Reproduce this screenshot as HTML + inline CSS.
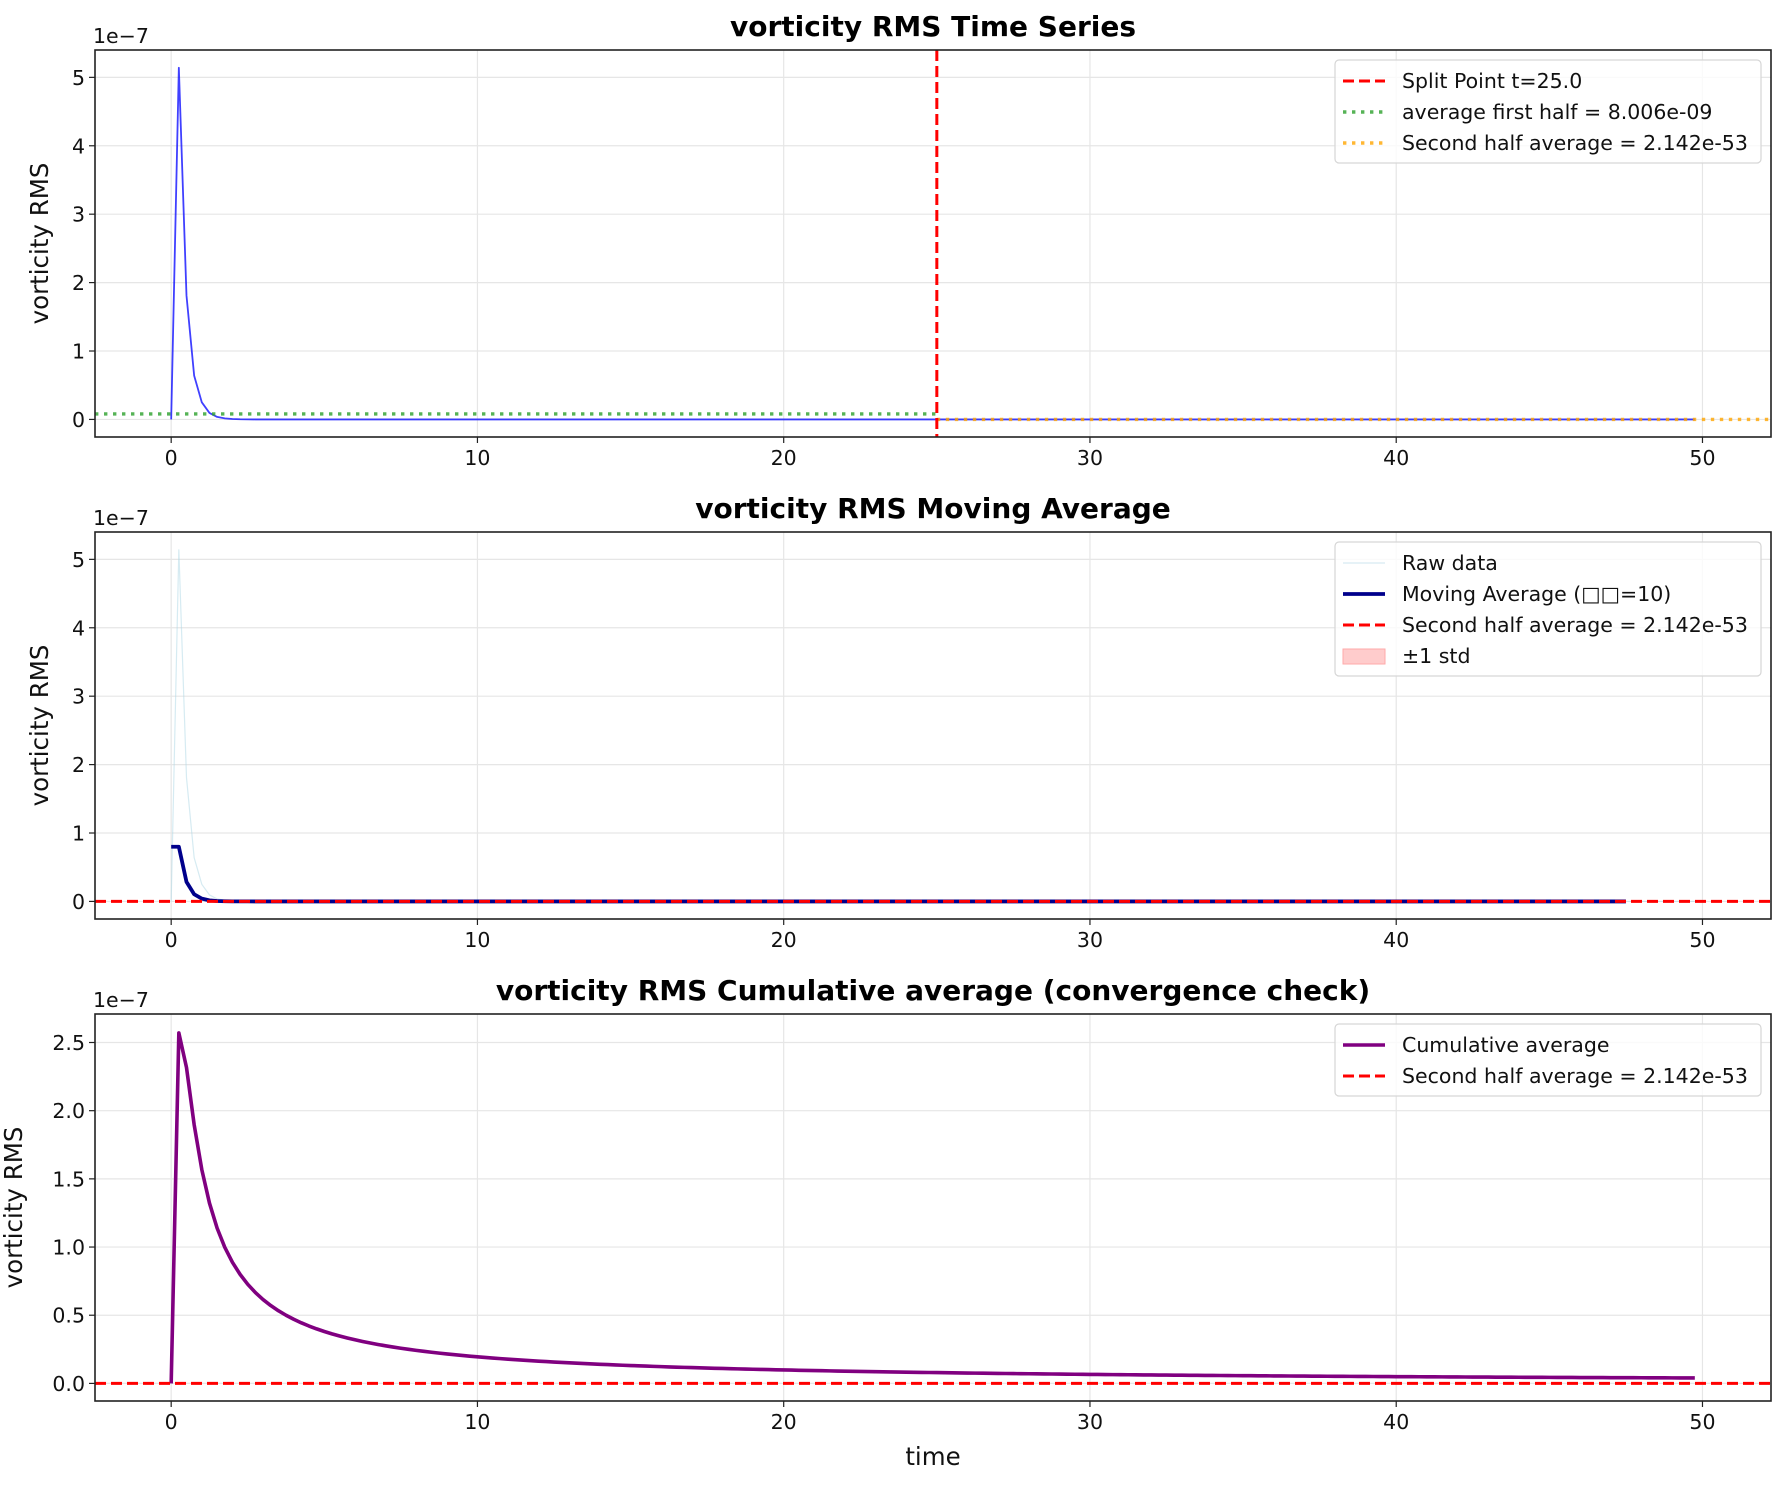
<!DOCTYPE html>
<html><head><meta charset="utf-8">
<style>
body{margin:0;background:#fff;}
svg{display:block;font-family:"DejaVu Sans","Liberation Sans","Noto Sans CJK SC",sans-serif;}
</style></head>
<body>
<svg id="fig" width="1786" height="1485" xmlns="http://www.w3.org/2000/svg"></svg>
<script>
// ---- data (units of 1e-7) ----
const dt = 0.25;
const rawHead = [0, 5.14, 1.81, 0.64, 0.25, 0.095, 0.037, 0.015, 0.006, 0.002, 0.001];
const rawTailZeros = 189;
const raw = rawHead.concat(Array(rawTailZeros).fill(0));
const times = raw.map((v,i)=>i*dt);
const splitT = 25.0;
const firstHalfAvg = 0.08006;
const secondHalfAvg = 0;
const maWindow = 10;
const xTicks = [0,10,20,30,40,50];
const yTicksTop = [0,1,2,3,4,5];
const yTicksBottom = [0,0.5,1.0,1.5,2.0,2.5];
const yTicksBottomLabels = ["0.0","0.5","1.0","1.5","2.0","2.5"];

const ma = [];
for(let i=0;i+maWindow<=raw.length;i++){let s=0;for(let j=i;j<i+maWindow;j++)s+=raw[j];ma.push(s/maWindow);}
const cum = []; {let s=0; raw.forEach((v,i)=>{s+=v;cum.push(s/(i+1));});}

const NS="http://www.w3.org/2000/svg";
const svg=document.getElementById('fig');
function el(tag,attrs,parent,text){const e=document.createElementNS(NS,tag);for(const k in attrs)e.setAttribute(k,attrs[k]);if(text!==undefined)e.textContent=text;(parent||svg).appendChild(e);return e;}

const L=95,R=1771,H=387;
const xmin=-2.4875,xmax=52.2375;
const xs=t=>L+(t-xmin)/(xmax-xmin)*(R-L);
const TF=20.5;

function makeAxes(top,ymin,ymax,yt,ytl,title,name,ylabX){
  const g=el('g',{});
  
  
  const ys=v=>top+H-(v-ymin)/(ymax-ymin)*H;
  xTicks.forEach(t=>{const l=el('line',{x1:xs(t),x2:xs(t),y1:top,y2:top+H,stroke:'#e6e6e6','stroke-width':1.2},g);
    });
  yt.forEach(v=>{const l=el('line',{x1:L,x2:R,y1:ys(v),y2:ys(v),stroke:'#e6e6e6','stroke-width':1.2},g);
    });
  xTicks.forEach(t=>{el('line',{x1:xs(t),x2:xs(t),y1:top+H,y2:top+H+6,stroke:'#222','stroke-width':1.2},g);
    const tx=el('text',{x:xs(t),y:top+H+28,'font-size':TF,'text-anchor':'middle',fill:'#111'},g,String(t));
    });
  yt.forEach((v,i)=>{el('line',{x1:L-6,x2:L,y1:ys(v),y2:ys(v),stroke:'#222','stroke-width':1.2},g);
    const tx=el('text',{x:L-10,y:ys(v)+7.5,'font-size':TF,'text-anchor':'end',fill:'#111'},g,ytl[i]);
    });
  const off=el('text',{x:L-2,y:top-7,'font-size':TF,fill:'#111'},g,'1e\u22127');
  
  const t=el('text',{x:(L+R)/2,y:top-14,'font-size':28,'font-weight':'bold','text-anchor':'middle',fill:'#000'},g,title);
  
  const yl=el('text',{x:ylabX,y:top+H/2,'font-size':24.5,'text-anchor':'middle',fill:'#111',transform:`rotate(-90 ${ylabX} ${top+H/2})`},g,'vorticity RMS');
  
  const cp='clip'+name;
  const cl=el('clipPath',{id:cp},g);el('rect',{x:L,y:top,width:R-L,height:H},cl);
  const plot=el('g',{'clip-path':`url(#${cp})`},g);
  return {g,ys,plot,top};
}
function frame(ax){const f=el('rect',{x:L,y:ax.top,width:R-L,height:H,fill:'none',stroke:'#222','stroke-width':1.6},ax.g);
  }
function poly(ax,xv,yv,attrs,name){const pts=yv.map((v,i)=>xs(xv[i]).toFixed(2)+','+ax.ys(v).toFixed(2)).join(' ');
  const p=el('polyline',Object.assign({points:pts,fill:'none','stroke-linejoin':'round'},attrs),ax.plot);
  return p;}
function legend(ax,x,y,w,items){
  const g=el('g',{},ax.g);
  
  el('rect',{x:x,y:y,width:w,height:items.length*31+10,rx:4,fill:'#fff','fill-opacity':0.8,stroke:'#d6d6d6','stroke-width':1.2},g);
  items.forEach((it,i)=>{const cy=y+21+i*31;
    if(it.patch){el('rect',{x:x+8,y:cy-7,width:42,height:15,fill:'#ffcccc',stroke:'#ffaaaa','stroke-width':1},g);}
    else el('line',Object.assign({x1:x+8,x2:x+50,y1:cy,y2:cy},it.st),g);
    const t=el('text',{x:x+67,y:cy+7,'font-size':TF,fill:'#111'},g,it.label);
    });
}

// ---- plot 1 ----
const a1=makeAxes(50,-0.257,5.4,yTicksTop,yTicksTop.map(String),'vorticity RMS Time Series','time-series-axes',48);
poly(a1,times,raw,{stroke:'#0000ff','stroke-opacity':0.75,'stroke-width':1.8},'raw-series-line');
let l=el('line',{x1:L,x2:xs(splitT),y1:a1.ys(firstHalfAvg),y2:a1.ys(firstHalfAvg),stroke:'#2ca02c','stroke-opacity':0.8,'stroke-width':3.4,'stroke-dasharray':'3.4 5.6'},a1.plot);

l=el('line',{x1:xs(splitT),x2:R,y1:a1.ys(secondHalfAvg),y2:a1.ys(secondHalfAvg),stroke:'#ffa500','stroke-opacity':0.8,'stroke-width':3.4,'stroke-dasharray':'3.4 5.6'},a1.plot);

l=el('line',{x1:xs(splitT),x2:xs(splitT),y1:a1.top,y2:a1.top+H,stroke:'#ff0000','stroke-width':3,'stroke-dasharray':'11 5'},a1.plot);

frame(a1);
legend(a1,1335,60,426,[
 {label:'Split Point t=25.0',st:{stroke:'#ff0000','stroke-width':3,'stroke-dasharray':'11 5'}},
 {label:'average first half = 8.006e-09',st:{stroke:'#2ca02c','stroke-opacity':0.8,'stroke-width':3.4,'stroke-dasharray':'3.4 5.6'}},
 {label:'Second half average = 2.142e-53',st:{stroke:'#ffa500','stroke-opacity':0.8,'stroke-width':3.4,'stroke-dasharray':'3.4 5.6'}}]);

// ---- plot 2 ----
const a2=makeAxes(532,-0.257,5.4,yTicksTop,yTicksTop.map(String),'vorticity RMS Moving Average','moving-average-axes',48);
poly(a2,times,raw,{stroke:'#add8e6','stroke-opacity':0.5,'stroke-width':1.2},'raw-data-line');
poly(a2,times.slice(0,ma.length),ma,{stroke:'#00008b','stroke-width':3.8},'moving-average-line');
l=el('line',{x1:L,x2:R,y1:a2.ys(secondHalfAvg),y2:a2.ys(secondHalfAvg),stroke:'#ff0000','stroke-width':3,'stroke-dasharray':'11 5'},a2.plot);

frame(a2);
legend(a2,1335,542,426,[
 {label:'Raw data',st:{stroke:'#add8e6','stroke-opacity':0.5,'stroke-width':1.2}},
 {label:'Moving Average  (\u25A1\u25A1=10)',st:{stroke:'#00008b','stroke-width':3.8}},
 {label:'Second half average = 2.142e-53',st:{stroke:'#ff0000','stroke-width':3,'stroke-dasharray':'11 5'}},
 {label:'±1 std',patch:true}]);

// ---- plot 3 ----
const a3=makeAxes(1014,-0.129,2.709,yTicksBottom,yTicksBottomLabels,'vorticity RMS Cumulative average (convergence check)','cumulative-average-axes',22);
poly(a3,times,cum,{stroke:'#800080','stroke-width':3.6},'cumulative-average-line');
l=el('line',{x1:L,x2:R,y1:a3.ys(secondHalfAvg),y2:a3.ys(secondHalfAvg),stroke:'#ff0000','stroke-width':3,'stroke-dasharray':'11 5'},a3.plot);

frame(a3);
legend(a3,1335,1024,426,[
 {label:'Cumulative average',st:{stroke:'#800080','stroke-width':3.6}},
 {label:'Second half average = 2.142e-53',st:{stroke:'#ff0000','stroke-width':3,'stroke-dasharray':'11 5'}}]);
const xl=el('text',{x:(L+R)/2,y:1465,'font-size':24.5,'text-anchor':'middle',fill:'#111'},svg,'time');


</script>
</body></html>
